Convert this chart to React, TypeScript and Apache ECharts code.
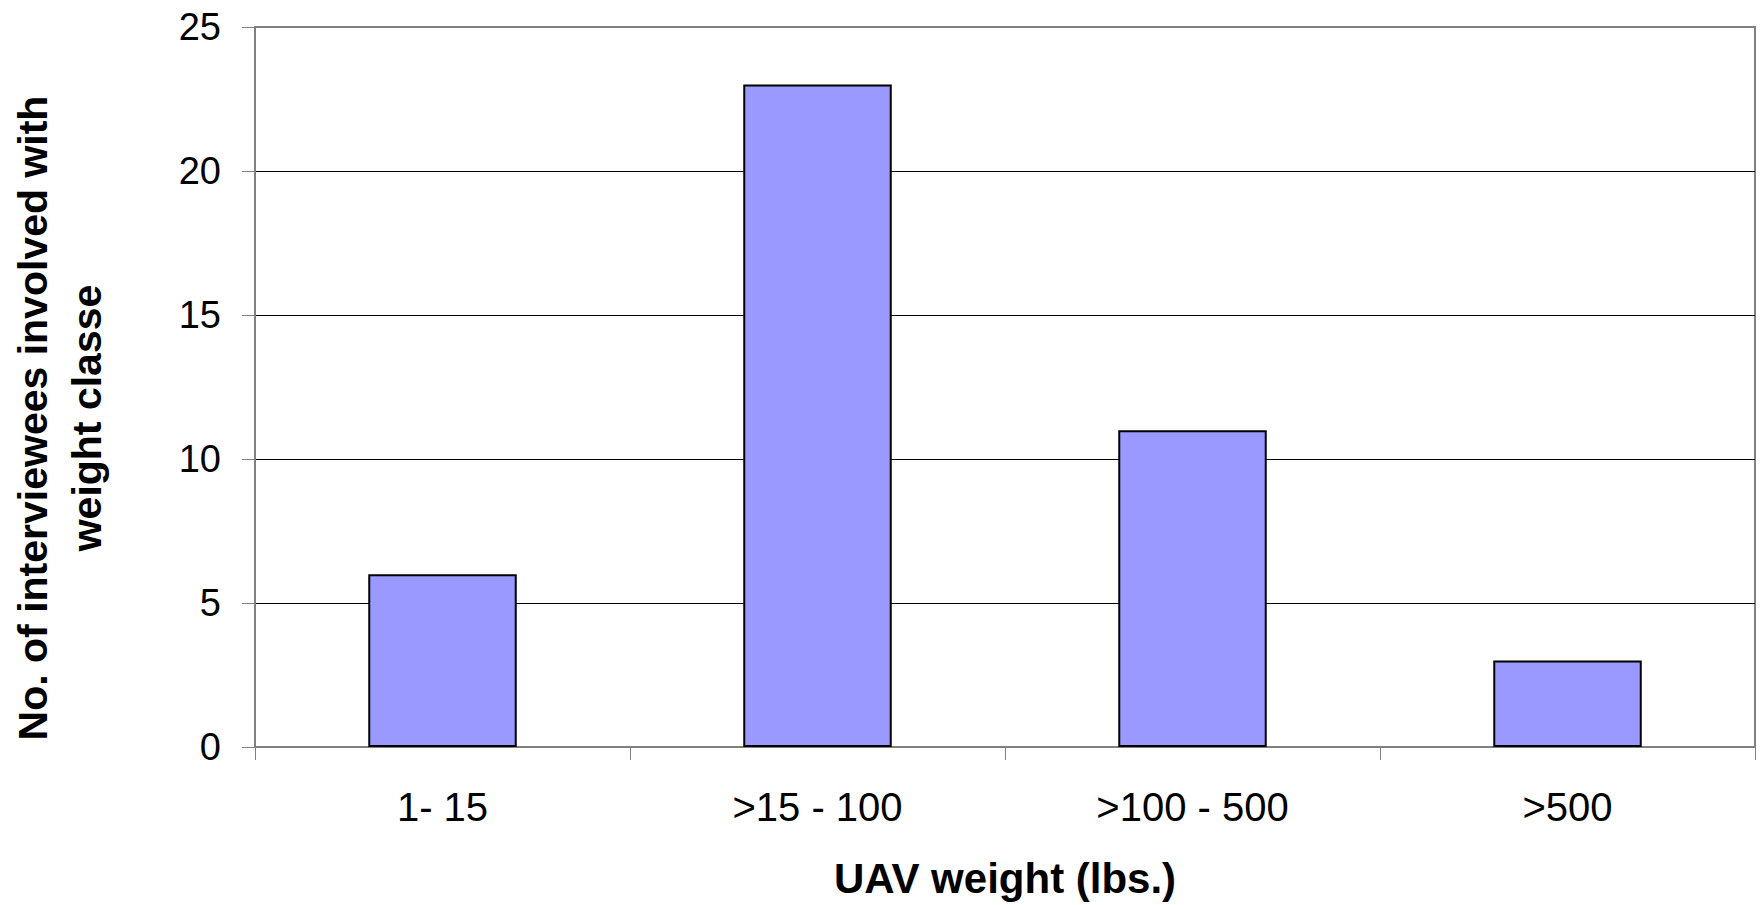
import React, { useEffect, useRef } from "react";
import * as echarts from "echarts";

const categories = ["1- 15", ">15 - 100", ">100 - 500", ">500"];
const counts = [6, 23, 11, 3];
const yTicks = { min: 0, max: 25, interval: 5 };

const FONT = "'Liberation Sans', Arial, sans-serif";

export default function App() {
  const ref = useRef<HTMLDivElement>(null);
  useEffect(() => {
    if (!ref.current) return;
    const chart = echarts.init(ref.current, null, { renderer: "svg" });
    chart.setOption({
      animation: false,
      backgroundColor: "#ffffff",
      grid: {
        left: 255,
        right: 9,
        top: 27,
        bottom: 158,
        show: true,
        borderColor: "#808080",
        borderWidth: 2,
        containLabel: false,
        outerBoundsMode: "none",
      },
      xAxis: {
        type: "category",
        data: categories,
        axisLine: { lineStyle: { color: "#808080", width: 2 } },
        axisTick: { show: true, length: 13, lineStyle: { color: "#808080", width: 1 } },
        axisLabel: { color: "#000", fontSize: 40, fontFamily: FONT, margin: 40 },
        name: "UAV weight (lbs.)",
        nameLocation: "middle",
        nameGap: 110,
        nameTextStyle: { color: "#000", fontSize: 42, fontWeight: "bold", fontFamily: FONT },
      },
      yAxis: {
        type: "value",
        min: yTicks.min,
        max: yTicks.max,
        interval: yTicks.interval,
        axisLine: { show: true, lineStyle: { color: "#808080", width: 2 } },
        axisTick: { show: true, length: 13, lineStyle: { color: "#808080", width: 1 } },
        axisLabel: { color: "#000", fontSize: 38, fontFamily: FONT, margin: 34 },
        splitLine: {
          show: true,
          lineStyle: { color: ["#000", "#000", "#000", "#000", "#000", "#808080"], width: 1 },
        },
        name: "No. of interviewees involved with\nweight classe",
        nameLocation: "middle",
        nameRotate: 90,
        nameGap: 141,
        nameTextStyle: {
          color: "#000",
          fontSize: 41,
          fontWeight: "bold",
          fontFamily: FONT,
          lineHeight: 54,
          padding: [0, 62, 0, 0],
        },
      },
      series: [
        {
          type: "bar",
          data: counts,
          barWidth: "39.6%",
          itemStyle: { color: "#9999FF", borderColor: "#000", borderWidth: 2 },
        },
      ],
    });
    return () => chart.dispose();
  }, []);
  return (
    <div
      ref={ref}
      style={{ position: "fixed", left: 0, top: 0, width: 1764, height: 905, background: "#fff" }}
    />
  );
}
